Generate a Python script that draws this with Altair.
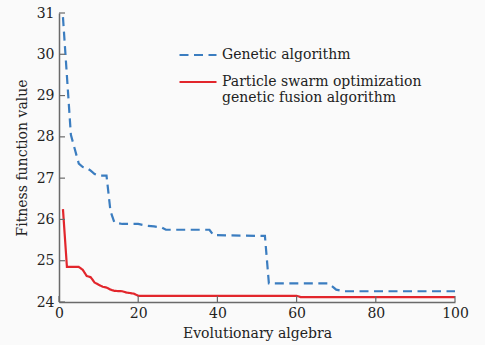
import altair as alt
import pandas as pd

ga_name = "Genetic algorithm"
pso_name = "Particle swarm optimization|genetic fusion algorithm"

ga_gen = [1, 3, 4, 5, 6, 7, 8, 9, 10, 12, 13, 14, 16, 20, 22, 24, 26, 27, 38, 39, 52, 53, 68, 69, 70, 72, 100]
ga_val = [30.9, 28.05, 27.7, 27.35, 27.27, 27.25, 27.18, 27.1, 27.06, 27.06, 26.2, 25.92, 25.89, 25.89,
          25.85, 25.83, 25.8, 25.75, 25.75, 25.62, 25.6, 24.45, 24.45, 24.38, 24.3, 24.26, 24.26]

pso_gen = [1, 2, 5, 6, 7, 8, 9, 10, 11, 12, 13, 14, 16, 17, 19, 20, 60, 61, 100]
pso_val = [26.25, 24.85, 24.85, 24.78, 24.63, 24.6, 24.47, 24.42, 24.37, 24.35, 24.3, 24.27, 24.26,
           24.23, 24.2, 24.15, 24.15, 24.12, 24.12]

x_ticks = [0, 20, 40, 60, 80, 100]
y_ticks = [24, 25, 26, 27, 28, 29, 30, 31]

df = pd.concat([
    pd.DataFrame({"gen": ga_gen, "val": ga_val, "series": ga_name, "order": range(len(ga_gen))}),
    pd.DataFrame({"gen": pso_gen, "val": pso_val, "series": pso_name, "order": range(len(pso_gen))}),
])

FONT = "DejaVu Serif"
BLUE = "#3b7dc0"
RED = "#e2262c"
AXC = "#6a6a6a"
TXT = "#222222"

xscale = alt.Scale(domain=[0, 100], nice=False)
yscale = alt.Scale(domain=[24, 31], nice=False, zero=False)

leg = alt.Legend(title=None, orient="none", legendX=119, legendY=22,
                 symbolType="stroke", symbolSize=1369, symbolStrokeWidth=2.2,
                 labelFont=FONT, labelFontSize=14, labelColor=TXT,
                 labelOffset=4, rowPadding=-9, labelLimit=400,
                 labelExpr="split(datum.label, '|')")

lines = alt.Chart(df).mark_line(strokeWidth=2.2).encode(
    x=alt.X("gen:Q", scale=xscale,
            axis=alt.Axis(values=x_ticks, title="Evolutionary algebra", tickSize=0, grid=False,
                          labelPadding=4, titlePadding=6, labelFlush=False,
                          labelFont=FONT, labelFontSize=14, labelColor=TXT,
                          titleFont=FONT, titleFontSize=14, titleFontWeight="normal", titleColor=TXT)),
    y=alt.Y("val:Q", scale=yscale,
            axis=alt.Axis(values=y_ticks, title="Fitness function value", tickSize=0, grid=False,
                          labelPadding=5, titlePadding=7, labelFlush=False,
                          labelFont=FONT, labelFontSize=14, labelColor=TXT,
                          titleFont=FONT, titleFontSize=14, titleFontWeight="normal", titleColor=TXT)),
    color=alt.Color("series:N",
                    scale=alt.Scale(domain=[ga_name, pso_name], range=[BLUE, RED]),
                    legend=leg),
    strokeDash=alt.StrokeDash("series:N",
                              scale=alt.Scale(domain=[ga_name, pso_name], range=[[9, 5.5], [1, 0]]),
                              legend=leg),
    order="order:Q",
)

xt = alt.Chart(pd.DataFrame({"t": x_ticks})).mark_rule(color=AXC, strokeWidth=1.2).encode(
    x=alt.X("t:Q", scale=xscale), y=alt.value(289), y2=alt.value(283))
yt = alt.Chart(pd.DataFrame({"t": y_ticks})).mark_rule(color=AXC, strokeWidth=1.2).encode(
    y=alt.Y("t:Q", scale=yscale), x=alt.value(0), x2=alt.value(6))

chart = alt.layer(lines, xt, yt).properties(
    width=396, height=289, autosize="none",
    padding={"left": 59, "top": 13, "right": 30, "bottom": 43},
    background="#fafafa",
).configure_view(stroke=None).configure_axis(
    domainColor=AXC, domainWidth=1.5,
)

chart.save("out.html", embed_options={"renderer": "svg", "actions": False})
